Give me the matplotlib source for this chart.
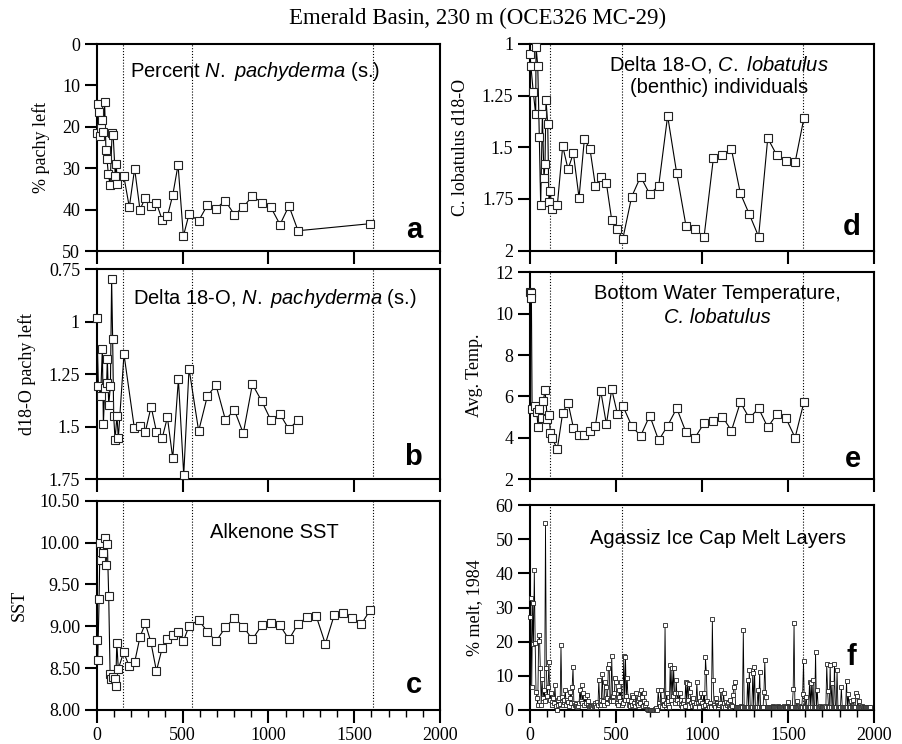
import numpy as np
import matplotlib
matplotlib.use('Agg')
import matplotlib.pyplot as plt

plt.rcParams['font.family'] = 'Liberation Serif'
plt.rcParams['mathtext.fontset'] = 'custom'
plt.rcParams['mathtext.rm'] = 'Liberation Sans'
plt.rcParams['mathtext.it'] = 'Liberation Sans:italic'
SANS = 'Liberation Sans'

# --- a: percent N. pachyderma (s.)
a_x = [0, 6, 12, 18, 24, 30, 38, 46, 54, 60, 68, 78, 90, 96, 108, 114, 120, 158, 190, 221,
       252, 284, 316, 348, 381, 412, 443, 474, 505, 538, 594, 645, 695, 748, 802, 854, 907,
       961, 1014, 1068, 1120, 1173, 1592]
a_y = [21.4, 14.5, 16.5, 22.3, 20.3, 18.4, 21.2, 13.9, 25.6, 27.8, 31.5, 34.1, 21.4, 22.0,
       31.8, 28.9, 33.9, 31.9, 39.4, 30.1, 40.0, 37.1, 39.2, 38.4, 42.4, 41.6, 36.5, 29.2,
       46.4, 41.1, 42.7, 38.9, 39.8, 37.8, 41.2, 39.4, 36.7, 38.3, 39.4, 43.6, 39.1, 45.1, 43.4]

# --- b: d18O N. pachyderma
b_x = [0, 10, 23, 33, 39, 47, 58, 62, 70, 80, 87, 93, 99, 107, 118, 126, 159, 219, 252, 283,
       317, 348, 381, 412, 443, 476, 507, 538, 594, 645, 695, 750, 802, 854, 907, 961, 1014,
       1068, 1120, 1173]
b_y = [0.983, 1.304, 1.352, 1.128, 1.487, 1.317, 1.29, 1.177, 1.396, 1.304, 0.798, 1.082,
       1.447, 1.563, 1.447, 1.555, 1.155, 1.504, 1.496, 1.525, 1.404, 1.523, 1.555, 1.455,
       1.65, 1.274, 1.729, 1.223, 1.52, 1.353, 1.302, 1.467, 1.42, 1.531, 1.298, 1.377,
       1.467, 1.44, 1.512, 1.467]

# --- c: alkenone SST
c_x = [0, 6, 14, 19, 27, 37, 47, 54, 62, 70, 78, 85, 93, 105, 111, 117, 126, 157, 190, 221,
       252, 283, 315, 348, 381, 412, 443, 474, 505, 538, 594, 645, 695, 750, 802, 854, 907,
       961, 1014, 1068, 1120, 1173, 1225, 1278, 1332, 1384, 1437, 1489, 1542, 1592]
c_y = [8.84, 8.60, 9.32, 9.99, 9.79, 9.88, 10.06, 9.73, 9.98, 9.36, 8.43, 8.37, 8.40, 8.37,
       8.29, 8.80, 8.49, 8.69, 8.52, 8.57, 8.87, 9.035, 8.816, 8.466, 8.736, 8.844, 8.892,
       8.935, 8.824, 9.003, 9.075, 8.935, 8.82, 8.987, 9.10, 8.995, 8.844, 9.01, 9.04, 9.01,
       8.844, 9.027, 9.107, 9.127, 8.79, 9.135, 9.155, 9.10, 9.027, 9.19]

# --- d: d18O C. lobatulus
d_x = [0, 5, 19, 33, 35, 45, 54, 62, 72, 81, 87, 93, 103, 110, 118, 126, 159, 190, 221, 252,
       285, 316, 349, 380, 411, 444, 475, 508, 539, 591, 643, 696, 748, 800, 853, 907, 959,
       1012, 1066, 1118, 1171, 1223, 1275, 1329, 1382, 1434, 1488, 1541, 1593]
d_y = [1.048, 1.106, 1.234, 1.34, 1.013, 1.106, 1.448, 1.779, 1.339, 1.65, 1.582, 1.271,
       1.389, 1.766, 1.711, 1.80, 1.779, 1.494, 1.606, 1.529, 1.744, 1.46, 1.51, 1.687,
       1.642, 1.674, 1.852, 1.895, 1.945, 1.739, 1.642, 1.726, 1.687, 1.348, 1.626, 1.881,
       1.897, 1.932, 1.553, 1.537, 1.51, 1.723, 1.824, 1.932, 1.456, 1.537, 1.566, 1.573, 1.356]

# --- e: bottom water temperature
e_x = [0, 4, 8, 12, 29, 39, 47, 54, 68, 78, 87, 101, 112, 118, 126, 159, 190, 221, 252, 285,
       316, 349, 380, 411, 444, 475, 508, 539, 591, 643, 696, 748, 800, 853, 907, 959, 1012,
       1066, 1118, 1171, 1223, 1275, 1329, 1382, 1434, 1488, 1541, 1593]
e_y = [11.03, 11.02, 10.78, 5.4, 5.56, 5.27, 4.51, 5.4, 4.95, 5.8, 6.33, 4.9, 5.1, 4.22,
       4.01, 3.47, 5.22, 5.7, 4.5, 4.14, 4.14, 4.35, 4.59, 6.28, 4.66, 6.35, 5.16, 5.56, 4.58,
       4.09, 5.08, 3.88, 4.59, 5.43, 4.27, 4.01, 4.71, 4.83, 5.03, 4.35, 5.72, 4.95, 5.43,
       4.51, 5.14, 4.95, 4.01, 5.75]

# --- f: Agassiz melt layers, 5-yr samples from 0 to 1975
f_x = np.arange(0, 1980, 5)
f_y = [
    27.1, 32.7, 6.8, 31.4, 19.3, 40.9, 19.5, 5.4, 3.4, 1.6, 20.3, 22.0, 12.2, 1.6, 9.2, 3.5, 6.0, 2.5, 54.8, 12.2,
    4.0, 6.8, 14.1, 3.0, 4.9, 2.4, 1.5, 3.5, 2.0, 7.3, 1.2, 0.0, 2.9, 1.5, 3.5, 1.8, 18.9, 3.9, 1.5, 2.2,
    2.9, 5.9, 1.5, 3.0, 2.4, 1.2, 3.5, 5.4, 2.0, 6.8, 12.5, 2.0, 1.5, 1.8, 1.2, 1.0, 1.3, 2.0, 5.9, 2.5,
    7.2, 2.0, 4.9, 1.5, 3.9, 2.0, 4.4, 2.5, 1.5, 1.0, 1.2, 1.3, 1.0, 1.5, 1.2, 2.0, 1.5, 1.0, 2.4, 1.5,
    8.8, 2.0, 1.5, 3.0, 10.5, 2.5, 1.5, 8.3, 6.8, 3.5, 2.0, 12.2, 13.4, 3.0, 2.5, 15.8, 4.0, 2.5, 4.9, 9.3,
    8.3, 2.0, 1.5, 3.9, 5.9, 2.5, 8.3, 1.5, 2.0, 15.8, 2.9, 15.6, 4.0, 9.3, 2.9, 1.5, 1.2, 2.5, 4.4, 1.5,
    3.9, 2.0, 1.2, 4.9, 2.0, 2.9, 1.5, 3.5, 2.0, 6.0, 3.9, 1.2, 2.5, 4.9, 1.5, 2.0, 0.2, 0.0, 0.0, 0.0,
    0.0, 0.0, 0.1, 0.0, 0.0, 0.2, 0.0, 0.5, 0.0, 5.9, 2.0, 1.2, 5.9, 2.5, 1.0, 3.0, 1.5, 24.8, 2.0, 4.9,
    1.5, 2.5, 1.0, 13.2, 3.0, 12.2, 4.0, 12.2, 4.9, 2.0, 8.8, 3.0, 5.0, 2.0, 4.9, 1.5, 2.9, 1.0, 2.0, 2.9,
    1.2, 8.3, 2.5, 8.0, 3.0, 7.5, 5.4, 2.0, 1.2, 2.5, 3.5, 1.5, 1.0, 2.0, 8.1, 2.0, 1.2, 1.0, 2.5, 4.9,
    2.0, 1.2, 4.9, 1.5, 15.4, 11.0, 2.5, 1.5, 1.0, 2.0, 1.2, 1.0, 26.5, 8.8, 1.5, 1.0, 3.4, 2.0, 1.0, 1.5,
    1.5, 2.0, 5.9, 1.2, 1.0, 4.9, 2.0, 1.0, 2.4, 1.5, 2.0, 1.2, 2.9, 1.0, 1.5, 1.2, 4.4, 6.8, 8.3, 1.0,
    1.0, 1.0, 0.8, 1.0, 1.0, 1.2, 1.0, 1.0, 23.4, 1.0, 1.0, 1.0, 1.0, 8.8, 1.0, 11.7, 1.0, 1.0, 1.0, 10.7,
    1.0, 12.7, 1.0, 1.0, 1.0, 5.9, 1.0, 11.2, 1.0, 1.0, 1.0, 1.0, 5.2, 14.6, 3.7, 1.0, 1.0, 0.8, 1.0, 1.0,
    1.0, 1.0, 1.2, 1.0, 0.8, 1.0, 1.0, 1.0, 1.2, 1.0, 1.0, 0.8, 1.0, 1.0, 1.0, 1.2, 1.0, 1.0, 1.0, 1.0,
    2.4, 1.0, 1.0, 1.0, 1.0, 1.0, 6.1, 25.4, 1.0, 1.0, 2.6, 1.0, 1.0, 1.2, 1.0, 1.0, 1.0, 4.7, 14.4, 1.0,
    1.0, 3.9, 1.0, 1.0, 1.0, 8.3, 1.0, 8.0, 1.0, 8.8, 1.0, 1.0, 17.1, 1.0, 5.9, 1.0, 1.0, 1.2, 1.0, 1.0,
    1.0, 1.0, 1.0, 1.2, 1.0, 13.4, 5.6, 1.0, 1.0, 13.2, 1.0, 7.8, 1.0, 1.0, 13.4, 1.0, 1.0, 11.6, 1.0, 1.0,
    1.0, 1.0, 6.6, 1.0, 1.0, 1.0, 1.0, 1.0, 8.5, 1.0, 4.6, 1.0, 1.0, 2.5, 1.0, 1.0, 2.8, 1.0, 1.0, 5.1,
    4.0, 1.0, 2.6, 1.0, 1.0, 1.0, 1.2, 1.0, 1.0, 1.0, 0.8, 1.0, 1.0, 1.0, 1.0, 1.0,
]

left_breaks = [152, 553, 1610]
right_breaks = [114, 535, 1589]

fig = plt.figure(figsize=(9.02, 7.44), dpi=100)


def setup(rect, ylim, yticks, ylabels, ylabel, breaks, labels_bottom=False):
    ax = fig.add_axes(rect)
    ax.set_xlim(0, 2000)
    ax.set_ylim(*ylim)
    ax.set_yticks(yticks)
    ax.set_yticklabels(ylabels)
    ax.set_xticks([0, 500, 1000, 1500, 2000])
    if labels_bottom:
        ax.set_xticks(np.arange(0, 2001, 100), minor=True)
    else:
        ax.set_xticklabels([])
    ax.tick_params(which='major', direction='out', length=9, width=1.5, labelsize=13,
                   pad=3)
    ax.tick_params(which='minor', direction='out', length=5, width=1.0)
    ax.tick_params(axis='y', which='minor', left=False)
    for s in ax.spines.values():
        s.set_linewidth(1.5)
    ax.set_ylabel(ylabel, fontsize=13, labelpad=9)
    for b in breaks:
        ax.axvline(b, color='k', ls=(0, (1, 1.6)), lw=0.8, zorder=1)
    return ax


def series(ax, x, y, ms=5.2, lw=0.8, mew=0.8):
    ax.plot(x, y, color='k', lw=lw, marker='s', ms=ms, mfc='white', mec='#222222', mew=mew,
            zorder=3, clip_on=False)


def letter(ax, s, x, y):
    ax.text(x, y, s, transform=ax.transAxes, ha='right', va='baseline', fontsize=21,
            fontweight='bold', family=SANS)


LX, LW = 0.1072, 0.3806
RX, RW = 0.5876, 0.3814
NOTE = 14.5

ax_a = setup([LX, 0.6626, LW, 0.2782], (50, 0), [0, 10, 20, 30, 40, 50],
             ['0', '10', '20', '30', '40', '50'], '% pachy left', left_breaks)
series(ax_a, a_x, a_y)
ax_a.text(0.097, 0.866, r'Percent $\mathit{N.\ pachyderma}$ (s.)', transform=ax_a.transAxes,
          ha='left', va='center', fontsize=NOTE, family=SANS)
letter(ax_a, 'a', 0.948, 0.063)

ax_b = setup([LX, 0.3558, LW, 0.2823], (1.75, 0.75), [0.75, 1, 1.25, 1.5, 1.75],
             ['0.75', '1', '1.25', '1.5', '1.75'], 'd18-O pachy left', left_breaks)
series(ax_b, b_x, b_y)
ax_b.text(0.105, 0.863, r'Delta 18-O, $\mathit{N.\ pachyderma}$ (s.)', transform=ax_b.transAxes,
          ha='left', va='center', fontsize=NOTE, family=SANS)
letter(ax_b, 'b', 0.948, 0.067)

ax_c = setup([LX, 0.0457, LW, 0.2813], (8, 10.5), [8, 8.5, 9, 9.5, 10, 10.5],
             ['8.00', '8.50', '9.00', '9.50', '10.00', '10.50'], 'SST', left_breaks,
             labels_bottom=True)
series(ax_c, c_x, c_y)
ax_c.text(0.519, 0.846, 'Alkenone SST', transform=ax_c.transAxes,
          ha='center', va='center', fontsize=NOTE, family=SANS)
letter(ax_c, 'c', 0.948, 0.08)

ax_d = setup([RX, 0.6631, RW, 0.2778], (2, 1), [1, 1.25, 1.5, 1.75, 2],
             ['1', '1.25', '1.5', '1.75', '2'], 'C. lobatulus d18-O', right_breaks)
series(ax_d, d_x, d_y)
ax_d.text(0.549, 0.903, r'Delta 18-O, $\mathit{C.\ lobatulus}$', transform=ax_d.transAxes,
          ha='center', va='center', fontsize=NOTE, family=SANS)
ax_d.text(0.549, 0.787, '(benthic) individuals', transform=ax_d.transAxes,
          ha='center', va='center', fontsize=NOTE, family=SANS)
letter(ax_d, 'd', 0.962, 0.077)

ax_e = setup([RX, 0.3558, RW, 0.2782], (2, 12), [2, 4, 6, 8, 10, 12],
             ['2', '4', '6', '8', '10', '12'], 'Avg. Temp.', right_breaks)
series(ax_e, e_x, e_y)
ax_e.text(0.544, 0.9, 'Bottom Water Temperature,', transform=ax_e.transAxes,
          ha='center', va='center', fontsize=NOTE, family=SANS)
ax_e.text(0.544, 0.78, 'C. lobatulus', transform=ax_e.transAxes, style='italic',
          ha='center', va='center', fontsize=NOTE, family=SANS)
letter(ax_e, 'e', 0.962, 0.058)

ax_f = setup([RX, 0.0457, RW, 0.2755], (0, 60), [0, 10, 20, 30, 40, 50, 60],
             ['0', '10', '20', '30', '40', '50', '60'], '% melt, 1984', right_breaks,
             labels_bottom=True)
series(ax_f, f_x, f_y, ms=2.8, lw=0.6, mew=0.6)
ax_f.text(0.547, 0.839, 'Agassiz Ice Cap Melt Layers', transform=ax_f.transAxes,
          ha='center', va='center', fontsize=NOTE, family=SANS)
letter(ax_f, 'f', 0.948, 0.22)

fig.text(478 / 902, 1 - 18 / 744, 'Emerald Basin, 230 m (OCE326 MC-29)',
         ha='center', va='center', fontsize=16.5)

fig.savefig('out.png', dpi=100)
